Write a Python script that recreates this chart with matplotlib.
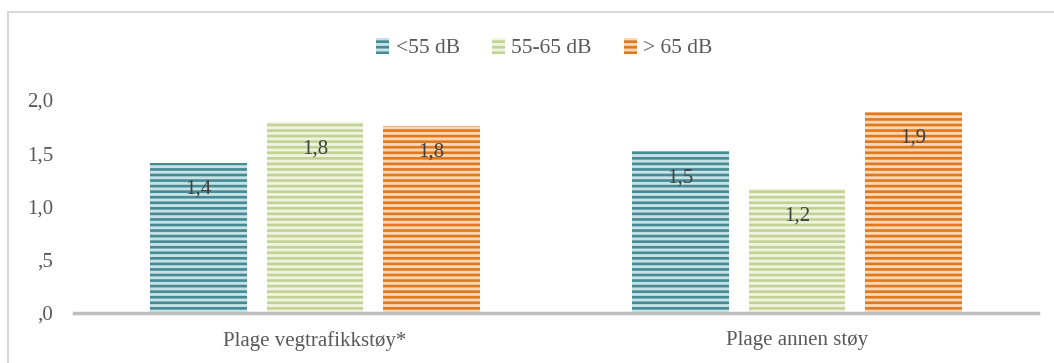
import numpy as np
import matplotlib.pyplot as plt
from matplotlib.patches import Rectangle

plt.rcParams['font.family'] = ['Liberation Serif', 'DejaVu Serif']
plt.rcParams['hatch.linewidth'] = 1.9

categories = ['Plage vegtrafikkstøy*', 'Plage annen støy']
series = ['<55 dB', '55-65 dB', '> 65 dB']
values = [
    [1.41, 1.52],   # <55 dB
    [1.79, 1.16],   # 55-65 dB
    [1.76, 1.89],   # > 65 dB
]
yticks = [0, 0.5, 1.0, 1.5, 2.0]
ytick_labels = [',0', ',5', '1,0', '1,5', '2,0']

# (stripe colour, background colour)
colors = [
    ('#468a94', '#c6e2e6'),
    ('#c3d294', '#f0f4df'),
    ('#e0781c', '#fad6b4'),
]
text_color = '#595959'

fig = plt.figure(figsize=(10.54, 3.63), dpi=100)
# light frame round the whole chart
fig.patches.append(Rectangle((8 / 1054, -0.1), 1.2, 1 - 12 / 363 + 0.1,
                             transform=fig.transFigure, fill=False,
                             ec='#d9d9d9', lw=1.5))

ax = fig.add_axes([74 / 1054, 50 / 363, 964 / 1054, 213 / 363])
x = np.arange(len(categories))
width = 0.2
offset = 0.242

for i, (name, vals) in enumerate(zip(series, values)):
    dark, light = colors[i]
    pos = x + (i - 1) * offset
    bars = ax.bar(pos, vals, width, color=light, edgecolor=dark, hatch='---',
                  linewidth=0, label=name)
    for b, v in zip(bars, vals):
        ax.text(b.get_x() + b.get_width() / 2, v - 0.25,
                f'{v:.1f}'.replace('.', ','), ha='center', va='center',
                fontsize=15, color='#404040')

ax.set_xlim(-0.5, 1.5)
ax.set_ylim(0, 2.0)
ax.set_yticks(yticks)
ax.set_yticklabels(ytick_labels)
ax.set_xticks(x)
ax.set_xticklabels(categories)
ax.tick_params(axis='both', length=0, labelsize=15, colors=text_color)
ax.tick_params(axis='y', pad=15)
ax.tick_params(axis='x', pad=13)
for side in ['top', 'right', 'left']:
    ax.spines[side].set_visible(False)
ax.spines['bottom'].set_color('#bfbfbf')
ax.spines['bottom'].set_linewidth(2.5)

leg = ax.legend(loc='center', bbox_to_anchor=(0.488, 1.0 + 52 / 213), ncol=3,
                frameon=False, fontsize=15.5, handlelength=0.6, handleheight=0.8,
                handletextpad=0.3, columnspacing=1.5)
for t in leg.get_texts():
    t.set_color(text_color)

fig.savefig('out.png', dpi=100)
